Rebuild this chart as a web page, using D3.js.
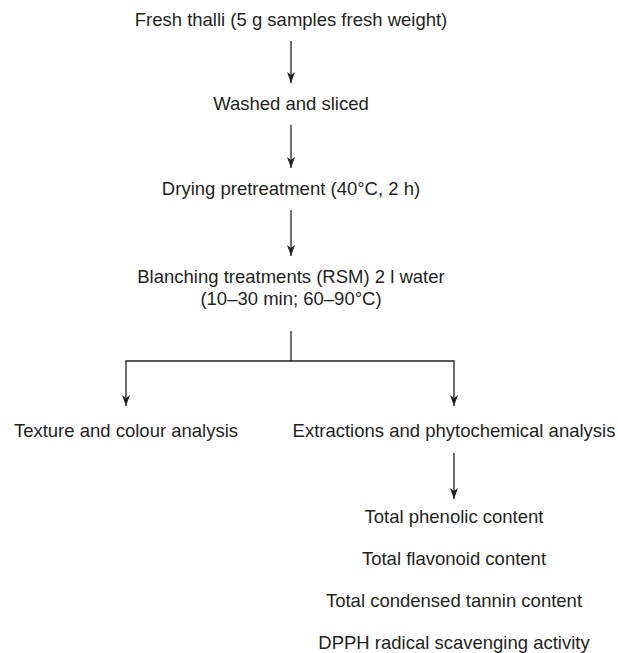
<!doctype html>
<html lang="en">
<head>
    <meta charset="UTF-8">
    <title>Blanching flow</title>
    <script src="https://d3js.org/d3.v7.min.js"></script>
    <style>
        body { margin: 0; background: #fff; }
        svg text { font-family: "Liberation Sans", Arial, Helvetica, sans-serif; font-size: 18.5px; fill: #231f20; }
    </style>
</head>
<body>
<div id="chart"></div>
<script>
  // Data
  const mainSteps = [
    ['Fresh thalli (5 g samples fresh weight)'],
    ['Washed and sliced'],
    ['Drying pretreatment (40°C, 2 h)'],
    ['Blanching treatments (RSM) 2 l water', '(10–30 min; 60–90°C)']
  ];
  const branches = ['Texture and colour analysis', 'Extractions and phytochemical analysis'];
  const assays = [
    'Total phenolic content',
    'Total flavonoid content',
    'Total condensed tannin content',
    'DPPH radical scavenging activity'
  ];

  // Dimensions
  const dimensions = { width: 618, height: 653 };
  const ink = '#231f20';

  const svg = d3.select('#chart')
    .append('svg')
    .attr('width', dimensions.width)
    .attr('height', dimensions.height);

  // arrow head drawn along +x, rotated by the line direction
  svg.append('defs').append('marker')
    .attr('id', 'head')
    .attr('markerUnits', 'userSpaceOnUse')
    .attr('viewBox', '0 0 11 8')
    .attr('refX', 11)
    .attr('refY', 4)
    .attr('markerWidth', 11)
    .attr('markerHeight', 8)
    .attr('orient', 'auto')
    .append('path')
    .attr('d', 'M0,0 L3,4 L0,8 L11,4 Z')
    .attr('fill', ink);

  // Scales
  const xMain = 291;
  const xBranch = d3.scalePoint()
    .domain(branches)
    .range([126, 454]);

  // baseline of each main step
  const yMain = d3.scaleOrdinal()
    .domain(mainSteps.map(d => d[0]))
    .range([26, 110, 195, 283]);

  const yAssay = d3.scaleLinear()
    .domain([0, assays.length - 1])
    .range([523, 649]);

  const lineGap = 22;
  const branchBaseline = 437;

  function arrow(x, y1, y2) {
    svg.append('line')
      .attr('x1', x).attr('x2', x)
      .attr('y1', y1).attr('y2', y2)
      .attr('stroke', ink)
      .attr('stroke-width', 1.3)
      .attr('marker-end', 'url(#head)');
  }

  function line(x1, y1, x2, y2) {
    svg.append('line')
      .attr('x1', x1).attr('x2', x2)
      .attr('y1', y1).attr('y2', y2)
      .attr('stroke', ink)
      .attr('stroke-width', 1.3);
  }

  // Main column
  mainSteps.forEach((step, i) => {
    const y = yMain(step[0]);
    svg.append('text')
      .attr('x', xMain)
      .attr('y', y)
      .attr('text-anchor', 'middle')
      .selectAll('tspan')
      .data(step)
      .join('tspan')
      .attr('x', xMain)
      .attr('dy', (d, j) => j === 0 ? 0 : lineGap)
      .text(d => d);

    if (i < mainSteps.length - 1) {
      const next = yMain(mainSteps[i + 1][0]);
      arrow(xMain, y + 15, next - 27);
    }
  });

  // Split
  const lastY = yMain(mainSteps[mainSteps.length - 1][0]) + lineGap;
  const splitY = 361;
  line(xMain, lastY + 26, xMain, splitY);
  line(xBranch(branches[0]) - 0.65, splitY, xBranch(branches[1]) + 0.65, splitY);

  branches.forEach(b => {
    arrow(xBranch(b), splitY, branchBaseline - 31);
    svg.append('text')
      .attr('x', xBranch(b))
      .attr('y', branchBaseline)
      .attr('text-anchor', 'middle')
      .text(b);
  });

  // Assays under the extraction branch
  const xAssay = xBranch(branches[1]);
  arrow(xAssay, branchBaseline + 16, yAssay(0) - 24);

  svg.selectAll('text.assay')
    .data(assays)
    .join('text')
    .attr('class', 'assay')
    .attr('x', xAssay)
    .attr('y', (d, i) => yAssay(i))
    .attr('text-anchor', 'middle')
    .text(d => d);
</script>
</body>
</html>
